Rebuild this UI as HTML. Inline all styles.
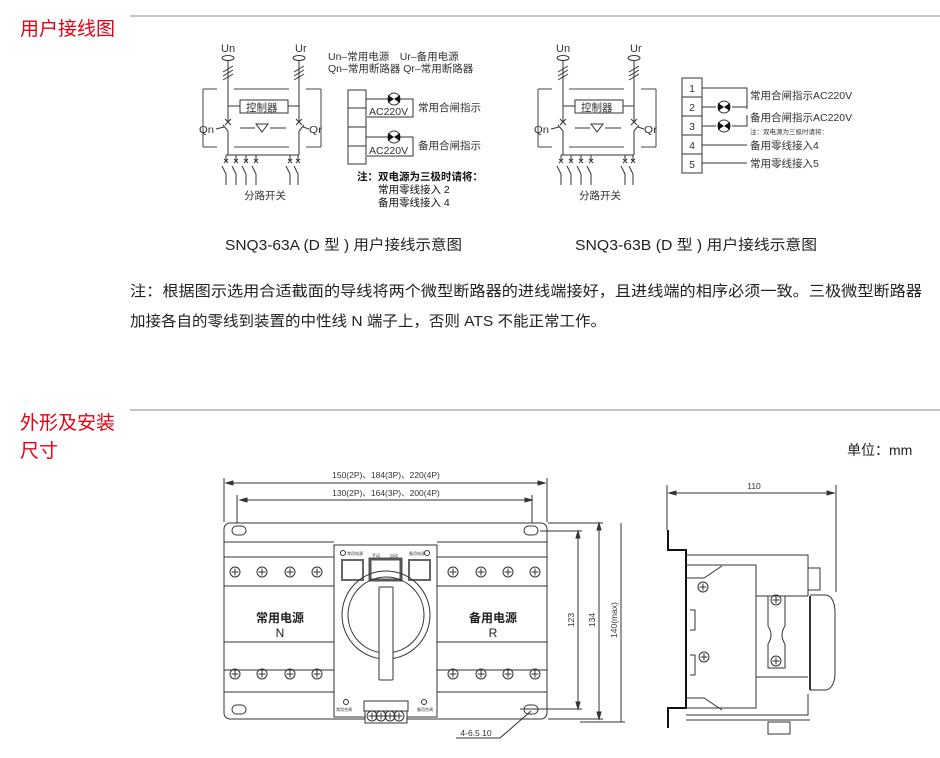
<!DOCTYPE html>
<html><head><meta charset="utf-8"><style>
html,body{margin:0;padding:0;background:#fff;}
svg{display:block;font-family:"Liberation Sans","Noto Sans CJK SC",sans-serif;}
</style></head><body>
<svg width="940" height="758" viewBox="0 0 940 758" xmlns="http://www.w3.org/2000/svg">
<defs>
<g id="sch" fill="none" stroke="#333" stroke-width="1">
  <text x="221" y="52" font-size="11" fill="#333" stroke="none">Un</text>
  <text x="295" y="52" font-size="11" fill="#333" stroke="none">Ur</text>
  <ellipse cx="228" cy="58" rx="6" ry="2.5"/>
  <ellipse cx="299" cy="58" rx="6" ry="2.5"/>
  <line x1="228" y1="60" x2="228" y2="122"/>
  <line x1="299" y1="60" x2="299" y2="122"/>
  <path d="M223 72l10 -6M223 76l10 -6M223 80l10 -6M294 72l10 -6M294 76l10 -6M294 80l10 -6"/>
  <path d="M203 89h14M234 89h55M306 89h15M203 89v58M203 147h14M234 147h55M306 147h15M321 89v58" stroke="#444"/>
  <rect x="240" y="100" width="48" height="13"/>
  <line x1="228" y1="106" x2="240" y2="106"/><line x1="288" y1="106" x2="299" y2="106"/>
  <text x="246" y="111" font-size="10.5" fill="#333" stroke="none">控制器</text>
  <path d="M225 119l6 6M231 119l-6 6M296 119l6 6M302 119l-6 6"/>
  <path d="M228 131l-5 -6M299 131l5 -6"/>
  <line x1="228" y1="131" x2="228" y2="155"/><line x1="299" y1="131" x2="299" y2="155"/>
  <line x1="216" y1="129" x2="224" y2="127"/><line x1="303" y1="127" x2="309" y2="129"/>
  <text x="199" y="133" font-size="10" fill="#333" stroke="none" textLength="15" lengthAdjust="spacingAndGlyphs">Qn</text>
  <text x="309" y="133" font-size="10" fill="#333" stroke="none" textLength="13" lengthAdjust="spacingAndGlyphs">Qr</text>
  <path d="M240 128h15M270 128h16"/>
  <path d="M256 124h12l-6 8z"/>
  <line x1="226" y1="155" x2="299" y2="155"/>
  <path d="M226 155v5M236 155v5M246 155v5M256 155v5M290 155v5M298 155v5"/>
  <path d="M224 159l4 4M228 159l-4 4M234 159l4 4M238 159l-4 4M244 159l4 4M248 159l-4 4M254 159l4 4M258 159l-4 4M288 159l4 4M292 159l-4 4M296 159l4 4M300 159l-4 4"/>
  <path d="M222 166l4 8v11M232 166l4 8v11M242 166l4 8v11M252 166l4 8v11M286 166l4 8v11M294 166l4 8v11"/>
  <text x="244" y="199" font-size="10.5" fill="#333" stroke="none">分路开关</text>
</g>
<g id="lamp"><circle r="6" fill="#fff" stroke="#333"/><path d="M-6 -4L0 0L-6 4zM6 -4L0 0L6 4z" fill="#111"/></g>
<g id="scr"><circle r="5" fill="none" stroke="#333"/><path d="M-3.5 0h7M0 -3.5v7" stroke="#333"/></g>
</defs>

<text x="20" y="35" font-size="19" fill="#e60012">用户接线图</text>
<line x1="130" y1="16" x2="940" y2="16" stroke="#888" stroke-width="1"/>

<use href="#sch"/>
<text x="328" y="60" font-size="10.5" fill="#333">Un–常用电源　Ur–备用电源</text>
<text x="328" y="72" font-size="10.5" fill="#333">Qn–常用断路器 Qr–常用断路器</text>
<g fill="none" stroke="#333">
<rect x="348" y="90" width="18" height="74"/>
<path d="M348 108h18M348 127h18M348 146h18"/>
<path d="M366 99h47v18h-46M366 137h47v19h-46"/>
</g>
<use href="#lamp" x="394" y="99"/><use href="#lamp" x="394" y="137"/>
<text x="369" y="115" font-size="10.5" fill="#333">AC220V</text>
<text x="369" y="154" font-size="10.5" fill="#333">AC220V</text>
<text x="418" y="111" font-size="10.5" fill="#333">常用合闸指示</text>
<text x="418" y="149" font-size="10.5" fill="#333">备用合闸指示</text>
<text x="357" y="180" font-size="10.5" fill="#111" font-weight="bold">注：双电源为三极时请将：</text>
<text x="378" y="193" font-size="10.5" fill="#111">常用零线接入 2</text>
<text x="378" y="206" font-size="10.5" fill="#111">备用零线接入 4</text>

<use href="#sch" x="335"/>
<g fill="none" stroke="#333">
<rect x="682" y="78" width="20" height="95"/>
<path d="M682 97h20M682 116h20M682 135h20M682 154h20"/>
<path d="M702 88h45v21M702 107h14M732 107h15M702 126h14M732 126h15v-11M702 145h45M702 163h45"/>
</g>
<use href="#lamp" x="724" y="107"/><use href="#lamp" x="724" y="126"/>
<g font-size="10.5" fill="#333" text-anchor="middle"><text x="692" y="92">1</text><text x="692" y="111">2</text><text x="692" y="130">3</text><text x="692" y="149">4</text><text x="692" y="168">5</text></g>
<text x="750" y="99" font-size="10.5" fill="#333">常用合闸指示AC220V</text>
<text x="750" y="121" font-size="10.5" fill="#333">备用合闸指示AC220V</text>
<text x="750" y="134" font-size="6.5" fill="#333">注：双电源为三极时请将：</text>
<text x="750" y="149" font-size="10.5" fill="#333">备用零线接入4</text>
<text x="750" y="167" font-size="10.5" fill="#333">常用零线接入5</text>

<text x="225" y="250" font-size="14.5" fill="#222" textLength="237" lengthAdjust="spacingAndGlyphs">SNQ3-63A (D 型 ) 用户接线示意图</text>
<text x="575" y="250" font-size="14.5" fill="#222" textLength="242" lengthAdjust="spacingAndGlyphs">SNQ3-63B (D 型 ) 用户接线示意图</text>
<text x="130" y="296" font-size="15" fill="#222" textLength="792" lengthAdjust="spacingAndGlyphs">注：根据图示选用合适截面的导线将两个微型断路器的进线端接好，且进线端的相序必须一致。三极微型断路器</text>
<text x="130" y="326" font-size="15" fill="#222" textLength="476" lengthAdjust="spacingAndGlyphs">加接各自的零线到装置的中性线 N 端子上，否则 ATS 不能正常工作。</text>

<line x1="130" y1="410" x2="940" y2="410" stroke="#888"/>
<text x="20" y="429" font-size="19" fill="#e60012">外形及安装</text>
<text x="20" y="457" font-size="19" fill="#e60012">尺寸</text>
<text x="847" y="455" font-size="14" fill="#222">单位：mm</text>

<g fill="none" stroke="#333" stroke-width="1">
<path d="M224 478v44M547 478v44M237 495v28M532 495v28"/>
<path d="M226 483h319M240 500h292"/>
<path d="M226 483l7 -2v4zM545 483l-7 -2v4zM240 500l7 -2v4zM532 500l-7 -2v4z" fill="#333"/>
<path d="M540 531h42M548 523h55M548 719h55M520 709h62M580 722h45"/>
<path d="M578 531v178M599 523v196M621 523v199"/>
<path d="M578 531l-2 7h4zM578 709l-2 -7h4zM599 523l-2 7h4zM599 719l-2 -7h4z" fill="#333"/>
<rect x="224" y="523" width="323" height="196" rx="6"/>
<path d="M224 542h110M437 542h110M224 557h110M437 557h110M224 586h110M437 586h110M224 642h110M437 642h110M224 670h110M437 670h110M224 692h110M437 692h110"/>
<rect x="334" y="545" width="103" height="172"/>
<rect x="232" y="526" width="14" height="9" rx="4.5"/><rect x="524" y="526" width="14" height="9" rx="4.5"/>
<rect x="232" y="705" width="14" height="9" rx="4.5"/><rect x="524" y="705" width="14" height="9" rx="4.5"/>
<rect x="342" y="560" width="21" height="20" stroke="#666" stroke-width="2"/>
<rect x="370" y="559" width="31" height="21" stroke="#555" stroke-width="3"/>
<rect x="409" y="560" width="21" height="20" stroke="#666" stroke-width="2"/>
<circle cx="343" cy="553" r="2.5"/><circle cx="427" cy="553" r="2.5"/>
<circle cx="386" cy="615" r="44"/><circle cx="386" cy="615" r="38"/>
<rect x="379" y="587" width="14" height="93" fill="#fff" rx="1"/>
<circle cx="346" cy="702" r="2.5"/><circle cx="424" cy="702" r="2.5"/>
<rect x="364" y="701" width="44" height="10" fill="#fff"/>
<rect x="365" y="711" width="42" height="12" fill="#fff"/>
<path d="M456 738h44l31 -27"/>
</g>
<g font-size="4" fill="#333"><text x="347" y="555">常用电源</text><text x="409" y="555">备用电源</text><text x="372" y="557">手动</text><text x="390" y="557">自动</text><text x="336" y="711">常用合闸</text><text x="417" y="711">备用合闸</text></g>
<use href="#scr" x="372" y="716"/><use href="#scr" x="381" y="716"/><use href="#scr" x="390" y="716"/><use href="#scr" x="399" y="716"/>
<use href="#scr" x="235" y="572"/><use href="#scr" x="262" y="572"/><use href="#scr" x="290" y="572"/><use href="#scr" x="317" y="572"/>
<use href="#scr" x="453" y="572"/><use href="#scr" x="481" y="572"/><use href="#scr" x="508" y="572"/><use href="#scr" x="535" y="572"/>
<use href="#scr" x="235" y="674"/><use href="#scr" x="262" y="674"/><use href="#scr" x="290" y="674"/><use href="#scr" x="317" y="674"/>
<use href="#scr" x="453" y="674"/><use href="#scr" x="481" y="674"/><use href="#scr" x="508" y="674"/><use href="#scr" x="535" y="674"/>
<g font-size="12" fill="#222" text-anchor="middle" font-weight="bold"><text x="280" y="622">常用电源</text><text x="493" y="622">备用电源</text></g>
<g font-size="12" fill="#222" text-anchor="middle"><text x="280" y="637">N</text><text x="493" y="637">R</text></g>
<g font-size="8.5" fill="#333" text-anchor="middle">
<text x="386" y="478">150(2P)、184(3P)、220(4P)</text>
<text x="386" y="496">130(2P)、164(3P)、200(4P)</text>
<text transform="translate(574 620) rotate(-90)">123</text>
<text transform="translate(595 620) rotate(-90)">134</text>
<text transform="translate(617 620) rotate(-90)">140(max)</text>
<text x="476" y="736">4-6.5   10</text>
<text x="754" y="489">110</text>
</g>

<g fill="none" stroke="#333" stroke-width="1">
<path d="M667 485v45M836 485v107M669 493h165"/>
<path d="M669 493l7 -2v4zM834 493l-7 -2v4z" fill="#333"/>
<path d="M668 530v20h18v158h-18v20" stroke="#111" stroke-width="2"/>
<path d="M686 555h122v41M686 565h70v31h52M686 578h18l18 -12M808 568h12v22h-12"/>
<path d="M686 715h122v-21M686 698h18l18 12M686 708h70v-31h52M686 720h124"/>
<path d="M756 596v81"/>
<path d="M768 596h17v30c-4 6 -4 12 0 18v24h-17v-24c4 -6 4 -12 0 -18z"/>
<path d="M810 595h15c8 0 10 10 10 18v60c0 10 -4 17 -10 17h-15"/>
<path d="M810 596v94" stroke-width="2"/>
<path d="M690 610h5v20h-5M690 655h5v20h-5"/>
<rect x="768" y="722" width="22" height="12"/>
</g>
<use href="#scr" x="703" y="587"/><use href="#scr" x="704" y="657"/>
<use href="#scr" x="776" y="600"/><use href="#scr" x="776" y="661"/>
</svg>
</body></html>
